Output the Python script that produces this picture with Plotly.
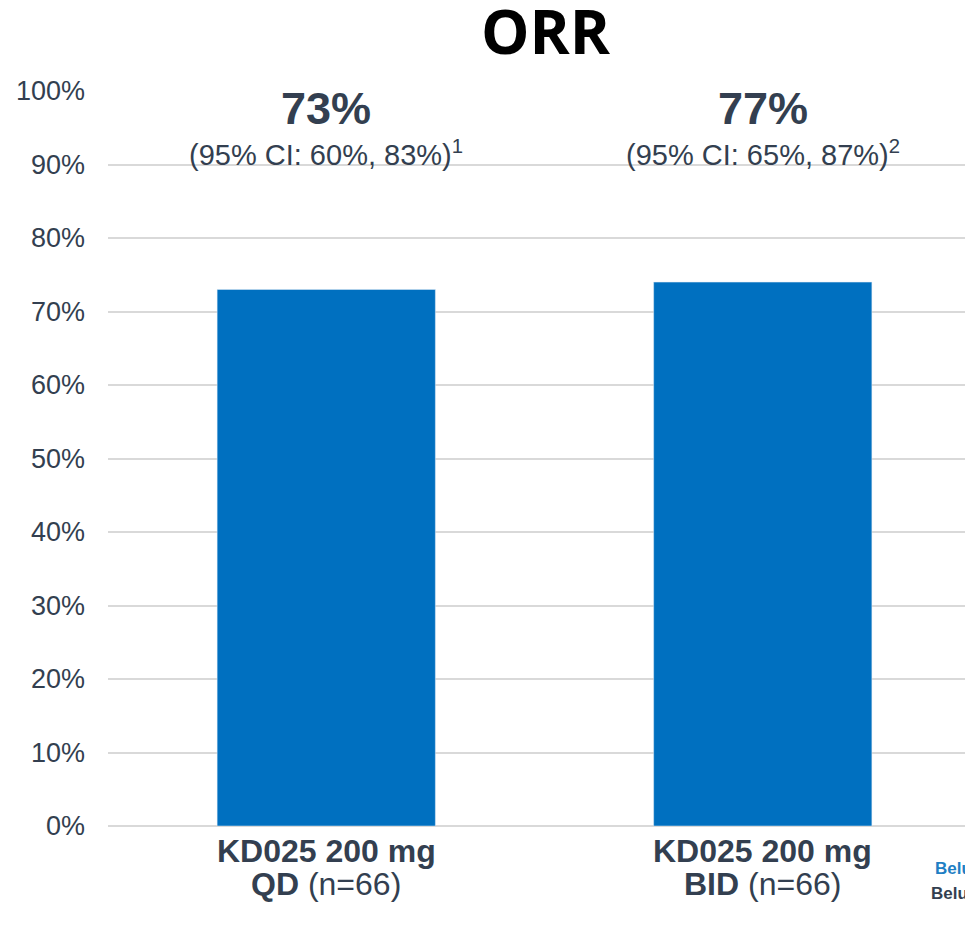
import plotly.graph_objects as go

categories = ["KD025 200 mg QD", "KD025 200 mg BID"]
values = [73, 74]
value_labels = ["73%", "77%"]
ci_labels = ["(95% CI: 60%, 83%)<sup>1</sup>", "(95% CI: 65%, 87%)<sup>2</sup>"]
cat_line1 = ["KD025 200 mg", "KD025 200 mg"]
cat_line2 = ["<b>QD</b> (n=66)", "<b>BID</b> (n=66)"]
y_ticks = [0, 10, 20, 30, 40, 50, 60, 70, 80, 90, 100]

TEXT = "#333F50"
BAR = "#0070C0"
FONT = "Liberation Sans, Arial, sans-serif"

# page body adds an 8px offset; positions below are figure pixels
OFF = 8
W, H = 973, 929
ML, MR, MT, MB = 100, 0, 83, 111
plot_w = W - ML - MR
plot_h = H - MT - MB


def px_x(x):
    return (x - OFF - ML) / plot_w


def px_y(y):
    return (H - MB - (y - OFF)) / plot_h


fig = go.Figure()
fig.add_trace(go.Bar(x=categories, y=values, marker_color=BAR, width=0.5,
                     hoverinfo="skip"))

anns = []
for c, v, ci, l1, l2 in zip(categories, value_labels, ci_labels, cat_line1, cat_line2):
    anns.append(dict(x=c, y=100, yref="y", text=f"<b>{v}</b>", showarrow=False,
                     yshift=-17, font=dict(size=45, color=TEXT, family=FONT)))
    anns.append(dict(x=c, y=100, yref="y", text=ci, showarrow=False,
                     yshift=-62, font=dict(size=29, color=TEXT, family=FONT)))
    anns.append(dict(x=c, y=0, yref="y", text=f"<b>{l1}</b>", showarrow=False,
                     yshift=-25, font=dict(size=32, color=TEXT, family=FONT)))
    anns.append(dict(x=c, y=0, yref="y", text=l2, showarrow=False,
                     yshift=-58, font=dict(size=32, color=TEXT, family=FONT)))

anns.append(dict(x=px_x(546), xref="paper", y=px_y(31), yref="paper",
                 text="<b>ORR</b>", showarrow=False, yanchor="middle",
                 font=dict(size=61, color="#000000", family="Open Sans, Lato, sans-serif")))
anns.append(dict(x=px_x(933), xref="paper", y=px_y(868), yref="paper",
                 text="<b>Belumosudil</b>", showarrow=False, xanchor="left", yanchor="middle",
                 font=dict(size=17, color="#1F7FC4", family=FONT)))
anns.append(dict(x=px_x(929), xref="paper", y=px_y(893), yref="paper",
                 text="<b>Belumosudil</b>", showarrow=False, xanchor="left", yanchor="middle",
                 font=dict(size=17, color=TEXT, family=FONT)))

fig.update_layout(
    width=W, height=H,
    margin=dict(l=ML, r=MR, t=MT, b=MB, autoexpand=False),
    plot_bgcolor="white", paper_bgcolor="white",
    showlegend=False,
    annotations=anns,
)

fig.update_xaxes(range=[-0.5, 1.5], showticklabels=False, showgrid=False,
                 zeroline=False, showline=False, fixedrange=True)
fig.update_yaxes(range=[0, 100], tickvals=y_ticks, ticktext=[f"{t}%" for t in y_ticks],
                 tickfont=dict(size=27, color=TEXT, family=FONT),
                 showgrid=True, gridcolor="#D9D9D9", gridwidth=2,
                 zeroline=True, zerolinecolor="#D9D9D9", zerolinewidth=2,
                 showline=False, ticks="", ticklabelstandoff=22, fixedrange=True)

fig.write_html("out.html")
